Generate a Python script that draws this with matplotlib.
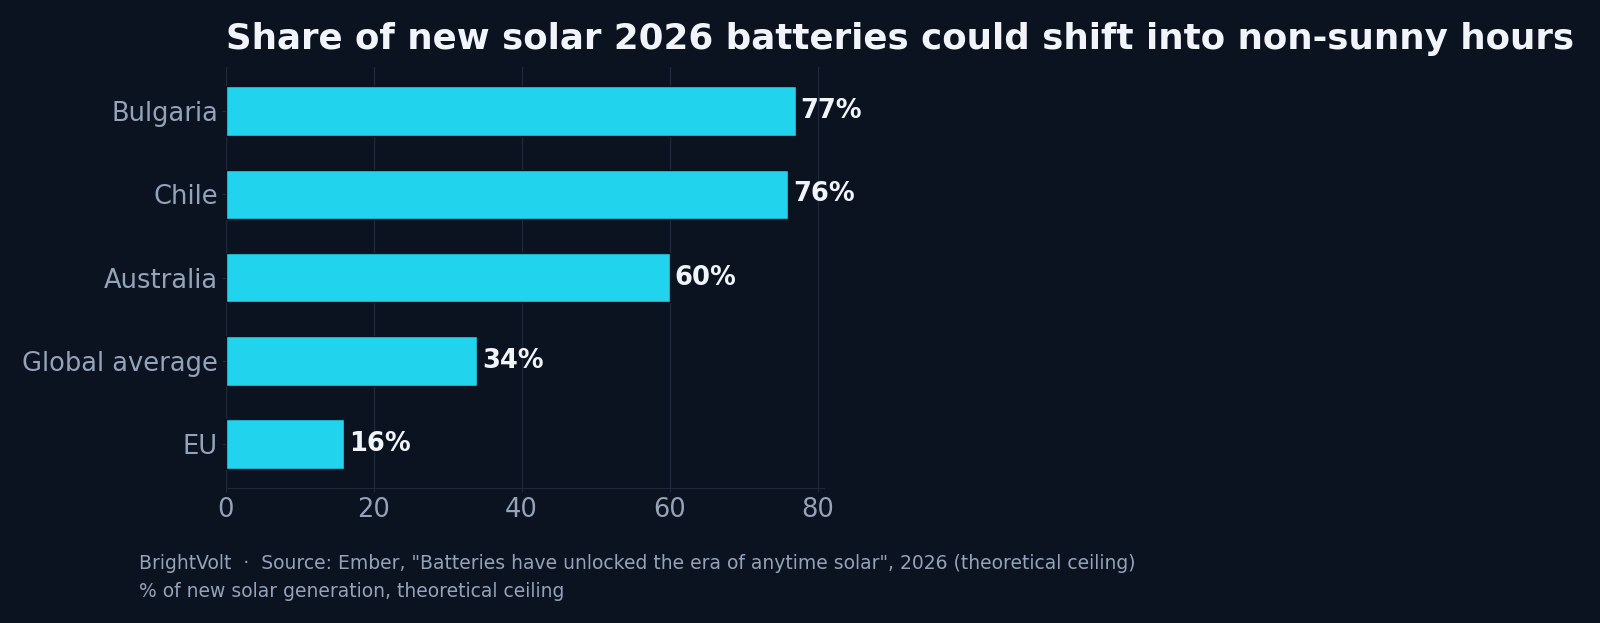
import matplotlib
matplotlib.use('Agg')
import matplotlib.pyplot as plt

# values (top to bottom)
countries = ["Bulgaria", "Chile", "Australia", "Global average", "EU"]
shares = [77, 76, 60, 34, 16]
xticks = [0, 20, 40, 60, 80]

bg = "#0b1220"
bar_color = "#22d3ee"
muted = "#94a3b8"
grid_color = "#1e293b"
text_color = "#f1f5f9"

fig = plt.figure(figsize=(16, 6.23), dpi=100, facecolor=bg)
ax = fig.add_axes([0.141, 0.217, 0.374, 0.675], facecolor=bg)

ypos = list(range(len(countries)))[::-1]
ax.barh(ypos, shares, height=0.6, color=bar_color, edgecolor=bg, linewidth=1, zorder=3)
for y, v in zip(ypos, shares):
    ax.text(v + 0.7, y, "%d%%" % v, va="center", ha="left", fontsize=18.5,
            fontweight="bold", color=text_color, zorder=4)

ax.set_yticks(ypos)
ax.set_yticklabels(countries)
ax.set_xticks(xticks)
ax.set_xlim(0, max(shares) * 1.05)
ax.grid(axis="x", color=grid_color, linewidth=1, zorder=0)
ax.tick_params(axis="both", colors=grid_color, labelcolor=muted, labelsize=18.5, length=3)
ax.tick_params(axis="y", pad=2.5)
for side in ["top", "right"]:
    ax.spines[side].set_visible(False)
ax.spines["bottom"].set_color(grid_color)
ax.spines["left"].set_color(grid_color)

ax.set_title("Share of new solar 2026 batteries could shift into non-sunny hours",
             loc="left", fontsize=25.7, fontweight="bold", color=text_color, pad=13)

fig.text(0.087, 0.095, 'BrightVolt  \u00b7  Source: Ember, "Batteries have unlocked the era of anytime solar", 2026 (theoretical ceiling)',
         fontsize=13.5, color=muted, va="center")
fig.text(0.087, 0.05, "% of new solar generation, theoretical ceiling",
         fontsize=13.5, color=muted, va="center")

fig.savefig("out.png", facecolor=bg)
